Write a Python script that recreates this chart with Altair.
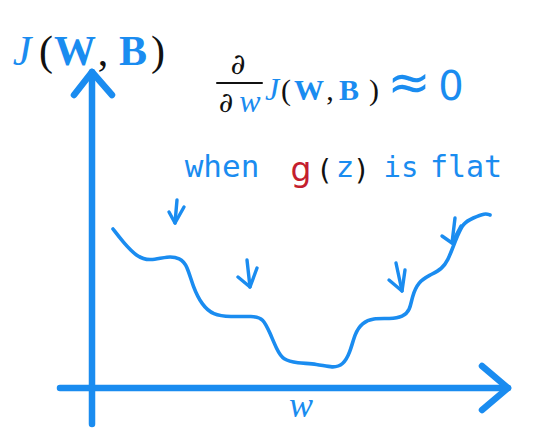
import altair as alt
import pandas as pd

# ---- data (image pixel units) ----
curve_w = [113, 123, 137, 150, 168, 180, 187, 193, 202, 213, 230, 253, 263, 270, 277, 283,
           297, 317, 333, 343, 350, 355, 362, 373, 390, 403, 410, 412, 418, 430, 442, 448,
           453, 457, 463, 473, 485, 490]
curve_j = [229, 242, 257, 261, 256, 258, 265, 287, 305, 315, 317, 316, 318, 333, 350, 360,
           363, 364, 368, 365, 353, 333, 323, 318, 319, 317, 310, 297, 282, 275, 269, 260,
           247, 237, 223, 218, 213, 215]

yaxis_x = [92, 92]
yaxis_y = [424, 72]
yhead_x = [74, 92, 112]
yhead_y = [95, 72, 95]
xaxis_x = [60, 508]
xaxis_y = [388, 388]
xhead_x = [482, 508, 482]
xhead_y = [366, 388, 410]

arrow_shaft_x = [[177, 175], [247, 250], [396, 402], [455, 452]]
arrow_shaft_y = [[200, 223], [260, 287], [263, 291], [218, 243]]
arrow_head_x = [[169, 175, 184], [238, 250, 257], [389, 402, 405], [442, 452, 461]]
arrow_head_y = [[212, 223, 207], [277, 287, 268], [280, 291, 270], [236, 243, 226]]

frac_x = [217, 262]
frac_y = [83, 83]

BLUE = "#1a8cf0"
RED = "#c41e2e"
BLACK = "#111111"

xs = alt.Scale(domain=[8, 550], nice=False, zero=False)
ys = alt.Scale(domain=[8, 428], reverse=True, nice=False, zero=False)


def polylines(xlists, ylists, prefix):
    rows = []
    for s, (xl, yl) in enumerate(zip(xlists, ylists)):
        for i, (a, b) in enumerate(zip(xl, yl)):
            rows.append({"seg": f"{prefix}{s}", "i": i, "x": a, "y": b})
    return pd.DataFrame(rows)


def lines(df, color, width):
    return alt.Chart(df).mark_line(
        color=color, strokeWidth=width, strokeCap="round", strokeJoin="round"
    ).encode(
        x=alt.X("x:Q", scale=xs, axis=None),
        y=alt.Y("y:Q", scale=ys, axis=None),
        detail="seg:N",
        order="i:Q",
    )


one = pd.DataFrame({"k": [0]})


def label(s, x, y, size, color, font="Liberation Serif", style="normal", weight="normal"):
    return alt.Chart(one).mark_text(
        text=s, fontSize=size, color=color, font=font, fontStyle=style,
        fontWeight=weight, align="center", baseline="alphabetic"
    ).encode(
        x=alt.XDatum(x, type="quantitative", scale=xs, axis=None),
        y=alt.YDatum(y, type="quantitative", scale=ys, axis=None),
    )


curve = alt.Chart(pd.DataFrame({"w": curve_w, "J": curve_j, "i": range(len(curve_w))})).mark_line(
    color=BLUE, strokeWidth=3.6, interpolate="basis", strokeCap="round"
).encode(
    x=alt.X("w:Q", scale=xs, axis=None),
    y=alt.Y("J:Q", scale=ys, axis=None),
    order="i:Q",
)

axes = lines(polylines([yaxis_x, yhead_x, xaxis_x, xhead_x],
                       [yaxis_y, yhead_y, xaxis_y, xhead_y], "ax"), BLUE, 6.5)
arrows = lines(polylines(arrow_shaft_x + arrow_head_x,
                         arrow_shaft_y + arrow_head_y, "ar"), BLUE, 3.4)
frac = lines(polylines([frac_x], [frac_y], "fr"), BLACK, 2)

texts = [
    # J(W,B) axis title
    label("J", 22, 65, 42, BLUE, style="italic"),
    label("(", 46, 65, 42, BLACK),
    label("W", 75, 65, 42, BLUE, weight="bold"),
    label(",", 103, 65, 42, BLACK),
    label("B", 133, 65, 42, BLUE, weight="bold"),
    label(")", 158, 65, 42, BLACK),
    # derivative
    label("∂", 238, 74, 29, BLACK, font="DejaVu Serif"),
    label("∂", 226, 112, 28, BLACK, font="DejaVu Serif"),
    label("w", 250, 112, 32, BLUE, style="italic"),
    label("J", 272, 100, 32, BLUE, style="italic"),
    label("(", 286, 100, 30, BLACK),
    label("W", 309, 100, 30, BLUE, weight="bold"),
    label(",", 330, 100, 30, BLACK),
    label("B", 349, 100, 30, BLUE, weight="bold"),
    label(")", 374, 100, 30, BLACK),
    label("≈", 409, 100, 52, BLUE, font="DejaVu Sans"),
    label("0", 451, 100, 40, BLUE, font="DejaVu Sans"),
    # when g(z) is flat
    label("when", 222, 177, 31, BLUE, font="DejaVu Sans Mono"),
    label("g", 301, 181, 33, RED, font="DejaVu Sans"),
    label("(", 325, 180, 28, BLACK, font="DejaVu Sans"),
    label("z", 345, 177, 29, BLUE, font="DejaVu Sans"),
    label(")", 361, 180, 28, BLACK, font="DejaVu Sans"),
    label("is", 401, 177, 29, BLUE, font="DejaVu Sans Mono"),
    label("flat", 466, 177, 30, BLUE, font="DejaVu Sans Mono"),
    # x axis label
    label("w", 301, 417, 36, BLUE, style="italic"),
]

chart = alt.layer(curve, axes, arrows, frac, *texts).properties(
    width=542, height=420, padding=0, autosize=alt.AutoSizeParams(type="none"),
    background="white",
).configure_view(stroke=None)

chart.save("out.html", embed_options={"renderer": "svg", "actions": False})
